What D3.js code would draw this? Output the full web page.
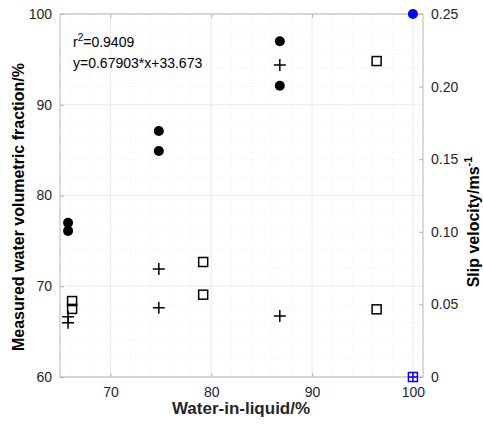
<!DOCTYPE html>
<html>
<head>
<meta charset="utf-8">
<script src="https://d3js.org/d3.v7.min.js"></script>
<style>
  body { margin: 0; background: #fff; }
  svg text { font-family: "Liberation Sans", Arial, Helvetica, sans-serif; }
</style>
</head>
<body>
<div id="chart"></div>
<script>
// measured water volumetric fraction (left axis)
const circleX = [65.8, 65.8, 74.8, 74.8, 86.8, 86.8];
const circleY = [77.0, 76.1, 87.1, 84.9, 97.0, 92.1];
// slip velocity, plus markers (right axis)
const plusX = [65.8, 65.8, 74.8, 74.8, 86.8, 86.8];
const plusV = [0.0415, 0.0374, 0.0744, 0.0477, 0.2149, 0.0420];
// slip velocity, square markers (right axis)
const squareX = [66.2, 66.2, 79.2, 79.2, 96.4, 96.4];
const squareV = [0.0523, 0.0469, 0.0792, 0.0567, 0.2176, 0.0466];
// pure water reference point
const refX = [100];
const refFraction = [100];
const refSlip = [0];

const xTicks = [70, 80, 90, 100];
const yLeftTicks = [60, 70, 80, 90, 100];
const yRightTicks = [0, 0.05, 0.10, 0.15, 0.20, 0.25];
const fitText = ["r", "2", "=0.9409"];
const fitEq = "y=0.67903*x+33.673";

const width = 483, height = 426;
const margin = {top: 14, right: 60, bottom: 49, left: 60};
const iw = 423 - margin.left, ih = 377 - margin.top;

const svg = d3.select('#chart').append('svg')
    .attr('width', width)
    .attr('height', height);

const g = svg.append('g')
    .attr('transform', `translate(${margin.left},${margin.top})`);

const x = d3.scaleLinear().domain([65, 101]).range([0, iw]);
const yL = d3.scaleLinear().domain([60, 100]).range([ih, 0]);
const yR = d3.scaleLinear().domain([0, 0.25]).range([ih, 0]);

// minor grid
const minorX = d3.range(66, 101, 2).filter(d => !xTicks.includes(d));
const minorY = d3.range(62, 100, 2).filter(d => !yLeftTicks.includes(d));
g.selectAll('.minor-x').data(minorX).enter().append('line')
    .attr('x1', d => x(d)).attr('x2', d => x(d))
    .attr('y1', 0).attr('y2', ih)
    .attr('stroke', '#e4e4e4').attr('stroke-width', 0.6)
    .attr('stroke-dasharray', '1,2');
g.selectAll('.minor-y').data(minorY).enter().append('line')
    .attr('y1', d => yL(d)).attr('y2', d => yL(d))
    .attr('x1', 0).attr('x2', iw)
    .attr('stroke', '#e4e4e4').attr('stroke-width', 0.6)
    .attr('stroke-dasharray', '1,2');

// major grid
g.selectAll('.major-x').data(xTicks).enter().append('line')
    .attr('x1', d => x(d)).attr('x2', d => x(d))
    .attr('y1', 0).attr('y2', ih)
    .attr('stroke', '#ececec').attr('stroke-width', 1);
g.selectAll('.major-y').data(yLeftTicks).enter().append('line')
    .attr('y1', d => yL(d)).attr('y2', d => yL(d))
    .attr('x1', 0).attr('x2', iw)
    .attr('stroke', '#ececec').attr('stroke-width', 1);

// axes
const tickLen = 4;
const axisColor = '#b5b5b5';
const styleAxis = function(sel) {
    sel.select('.domain').remove();
    sel.selectAll('.tick line').attr('stroke', axisColor);
    sel.selectAll('.tick text')
        .attr('fill', '#262626')
        .style('font-size', '14px');
};

g.append('g')
    .attr('transform', `translate(0,${ih})`)
    .call(d3.axisBottom(x).tickValues(xTicks).tickSizeInner(-tickLen).tickSizeOuter(0).tickPadding(10))
    .call(styleAxis);
g.append('g')
    .call(d3.axisTop(x).tickValues(xTicks).tickSizeInner(-tickLen).tickSizeOuter(0).tickFormat(''))
    .call(styleAxis);
g.append('g')
    .call(d3.axisLeft(yL).tickValues(yLeftTicks).tickSizeInner(-tickLen).tickSizeOuter(0).tickPadding(8))
    .call(styleAxis);
g.append('g')
    .attr('transform', `translate(${iw},0)`)
    .call(d3.axisRight(yR).tickValues(yRightTicks).tickSizeInner(-tickLen).tickSizeOuter(0).tickPadding(8)
        .tickFormat(d => d === 0 ? '0' : d3.format('.2f')(d)))
    .call(styleAxis);

// box
g.append('rect')
    .attr('x', 0).attr('y', 0)
    .attr('width', iw).attr('height', ih)
    .attr('fill', 'none')
    .attr('stroke', axisColor)
    .attr('stroke-width', 1);

// circles
g.selectAll('.circ').data(circleX).enter().append('circle')
    .attr('cx', d => x(d))
    .attr('cy', (d, i) => yL(circleY[i]))
    .attr('r', 5)
    .attr('fill', '#000');

// plus markers
const plusPath = 'M-6,0H6M0,-6V6';
g.selectAll('.plus').data(plusX).enter().append('path')
    .attr('d', plusPath)
    .attr('transform', (d, i) => `translate(${x(d)},${yR(plusV[i])})`)
    .attr('stroke', '#000')
    .attr('stroke-width', 1.5)
    .attr('fill', 'none');

// squares
const sq = 9;
g.selectAll('.sq').data(squareX).enter().append('rect')
    .attr('x', d => x(d) - sq / 2)
    .attr('y', (d, i) => yR(squareV[i]) - sq / 2)
    .attr('width', sq).attr('height', sq)
    .attr('fill', 'none')
    .attr('stroke', '#000')
    .attr('stroke-width', 1.5);

// reference point (100 % water)
g.selectAll('.ref-c').data(refX).enter().append('circle')
    .attr('cx', d => x(d))
    .attr('cy', (d, i) => yL(refFraction[i]))
    .attr('r', 5)
    .attr('fill', '#0000ff');
g.selectAll('.ref-s').data(refX).enter().append('rect')
    .attr('x', d => x(d) - sq / 2)
    .attr('y', (d, i) => yR(refSlip[i]) - sq / 2)
    .attr('width', sq).attr('height', sq)
    .attr('fill', 'none')
    .attr('stroke', '#0000ff')
    .attr('stroke-width', 1.5);
g.selectAll('.ref-p').data(refX).enter().append('path')
    .attr('d', 'M-4.5,0H4.5M0,-4.5V4.5')
    .attr('transform', (d, i) => `translate(${x(d)},${yR(refSlip[i])})`)
    .attr('stroke', '#0000ff')
    .attr('stroke-width', 1.5);

// fit annotation
const ann = g.append('text')
    .attr('x', 13).attr('y', 33)
    .attr('fill', '#000')
    .style('font-size', '14px');
ann.append('tspan').text(fitText[0]);
ann.append('tspan').attr('dy', -6).style('font-size', '10px').text(fitText[1]);
ann.append('tspan').attr('dy', 6).text(fitText[2]);
g.append('text')
    .attr('x', 13).attr('y', 54)
    .attr('fill', '#000')
    .style('font-size', '14px')
    .text(fitEq);

// axis labels
svg.append('text')
    .attr('x', 241).attr('y', 414)
    .attr('text-anchor', 'middle')
    .attr('fill', '#262626')
    .style('font-size', '17px').style('font-weight', 'bold')
    .text('Water-in-liquid/%');

svg.append('text')
    .attr('transform', 'translate(24,207) rotate(-90)')
    .attr('text-anchor', 'middle')
    .attr('fill', '#000')
    .style('font-size', '16px').style('font-weight', 'bold')
    .text('Measured water volumetric fraction/%');

const rl = svg.append('text')
    .attr('transform', 'translate(479,222) rotate(-90)')
    .attr('text-anchor', 'middle')
    .attr('fill', '#000')
    .style('font-size', '16px').style('font-weight', 'bold');
rl.append('tspan').text('Slip velocity/ms');
rl.append('tspan').attr('dy', -7).style('font-size', '11px').text('-1');
</script>
</body>
</html>
